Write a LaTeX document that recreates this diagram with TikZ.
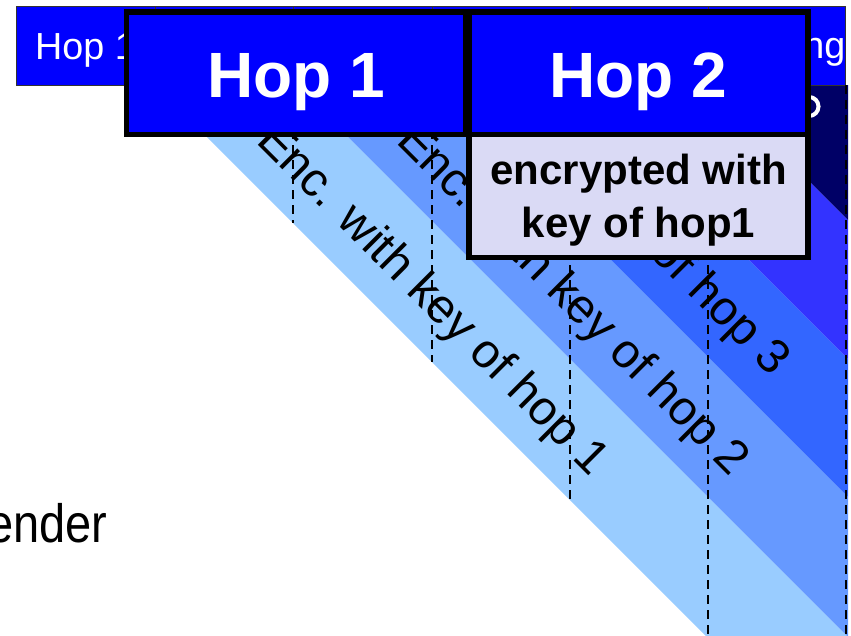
\documentclass[tikz,border=0pt]{standalone}
\usepackage{fontspec}
\setmainfont{Liberation Sans}
\usepackage{graphicx}
\definecolor{bandA}{HTML}{99CCFF}
\definecolor{bandB}{HTML}{6699FF}
\definecolor{bandC}{HTML}{3366FF}
\definecolor{bandD}{HTML}{3333FF}
\definecolor{bandE}{HTML}{000066}
\definecolor{hopblue}{HTML}{0000FF}
\definecolor{encfill}{RGB}{218,218,245}
\begin{document}
\begin{tikzpicture}[x=1pt,y=1pt,
  cell/.style={draw=black!80, line width=1pt, fill=hopblue, minimum height=79pt, inner sep=0pt, outer sep=0pt},
  celltext/.style={text=white, inner sep=0pt, anchor=base, font=\fontsize{37.7}{40}\selectfont},
  bigbox/.style={draw=black, line width=5.5pt, fill=hopblue, text=white, inner sep=0pt, outer sep=0pt,
    minimum height=122.5pt, text height=48pt, text depth=0pt, font=\bfseries\fontsize{64}{64}\selectfont},
  keybox/.style={draw=black, line width=5.5pt, fill=encfill, inner sep=0pt, outer sep=0pt, minimum height=123pt},
  keytext/.style={align=center, inner sep=0pt, font=\bfseries\fontsize{42}{53}\selectfont},
  enclabel/.style={rotate=-45, anchor=base west, inner sep=0pt, font=\fontsize{48}{48}\selectfont},
  guide/.style={dash pattern=on 9pt off 6pt, line width=1.6pt}
]
\useasboundingbox (0,0) rectangle (851,-635);

% diagonal bands
\begin{scope}
  \clip (0,-85) rectangle (848,-640);
  \fill[bandA] (70,0) -- (211,0) -- (911,-700) -- (770,-700) -- cycle;
  \fill[bandB] (211,0) -- (351,0) -- (1051,-700) -- (911,-700) -- cycle;
  \fill[bandC] (351,0) -- (489,0) -- (1189,-700) -- (1051,-700) -- cycle;
  \fill[bandD] (489,0) -- (628,0) -- (1328,-700) -- (1189,-700) -- cycle;
  \fill[bandE] (628,0) -- (1100,0) -- (1800,-700) -- (1328,-700) -- cycle;
\end{scope}

% rotated labels in the bands
\node[enclabel] (e1) at (255,-142) {Enc. with key of hop 1};
\node[enclabel] (e2) at (395,-142) {Enc. with key of hop 2};
\node[enclabel] (e3) at (436,-42) {Enc. with key of hop 3};
\draw[white, line width=4pt] (809,-106.5) ++(90:9.5) arc (90:-90:9.5);

% top row of cells
\node[cell, minimum width=139pt] (c1) at (85.5,-45.5) {};
\node[cell, minimum width=138pt] (c2) at (224,-45.5) {};
\node[cell, minimum width=139pt] (c3) at (362.5,-45.5) {};
\node[cell, minimum width=138pt] (c4) at (501,-45.5) {};
\node[cell, minimum width=138pt] (c5) at (639,-45.5) {};
\node[cell, minimum width=137pt] (c6) at (776.5,-45.5) {};
\node[celltext] (t1) at (85.5,-59) {Hop 1};
\node[celltext, anchor=base east] (t6) at (845.5,-58.5) {ng};

% dashed guides
\draw[guide] (c2.south east) -- ++(0,-138);
\draw[guide] (c3.south east) -- ++(0,-277);
\draw[guide] (c4.south east) -- ++(0,-415);
\draw[guide] (c5.south east) -- ++(0,-553);
\draw[guide] ([xshift=1pt]c6.south east) -- ++(0,-553);

% big boxes
\node[bigbox, minimum width=339.5pt] (h1) at (296.25,-73.25) {Hop 1};
\node[bigbox, minimum width=339pt] (h2) at (638.5,-73.25) {Hop 2};
\node[keybox, minimum width=339pt] (k1) at (638.5,-196) {};
\node[keytext] (k1t) at ([yshift=-4.6pt]k1.center) {encrypted with\\key of hop1};

% sender
\node[anchor=base east, inner sep=0pt, font=\fontsize{54}{54}\selectfont] (snd) at (107.5,-542) {\scalebox{0.87}[1]{ender}};
\end{tikzpicture}
\end{document}
